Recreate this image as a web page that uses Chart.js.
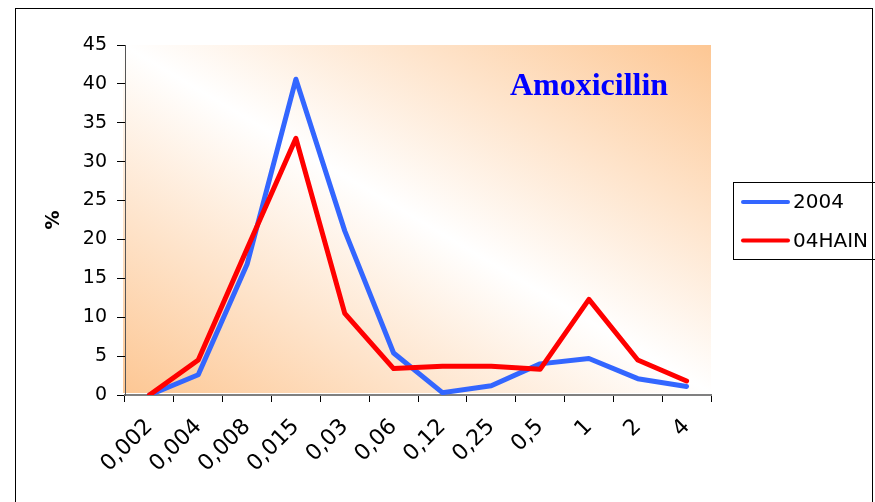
<!DOCTYPE html>
<html>
<head>
<meta charset="utf-8">
<script src="https://cdn.jsdelivr.net/npm/chart.js@4/dist/chart.umd.min.js"></script>
<style>
  html, body { margin: 0; padding: 0; background: #fff; }
  #wrap { width: 875px; height: 502px; }
</style>
</head>
<body>
<div id="wrap"><canvas id="c" width="875" height="502"></canvas></div>
<script>
// MIC classes (mg/L)
const categories = ['0,002', '0,004', '0,008', '0,015', '0,03', '0,06', '0,12', '0,25', '0,5', '1', '2', '4'];
// Percentage of isolates per MIC class
const series2004 = [0, 2.6, 16.8, 40.6, 21.1, 5.4, 0.3, 1.2, 4.0, 4.7, 2.1, 1.1];
const series04HAIN = [0, 4.5, 18.8, 33.0, 10.5, 3.4, 3.7, 3.7, 3.3, 12.3, 4.5, 1.8];
const yTicks = [0, 5, 10, 15, 20, 25, 30, 35, 40, 45];
const chartTitle = 'Amoxicillin';

const FONT = '"DejaVu Sans", "Liberation Sans", Arial, sans-serif';

// Page frame, plot background, in-plot title and legend box
const decor = {
  id: 'decor',
  beforeDraw(chart) {
    const ctx = chart.ctx;
    const a = chart.chartArea;
    ctx.save();
    ctx.fillStyle = '#fff';
    ctx.fillRect(0, 0, chart.width, chart.height);
    // outer frame
    ctx.strokeStyle = '#000';
    ctx.lineWidth = 1;
    ctx.strokeRect(15.5, 8.5, 857, 520);
    // diagonal two-corner gradient, isolines parallel to the top-left/bottom-right diagonal
    const x0 = a.left - 2, y0 = a.top, w = a.right - x0, h = a.bottom - 2 - a.top;
    ctx.translate(x0, y0);
    ctx.scale(w, h);
    const g = ctx.createLinearGradient(0, 1, 1, 0);
    g.addColorStop(0, '#FDC794');
    g.addColorStop(0.5, '#FFFFFF');
    g.addColorStop(1, '#FDC794');
    ctx.fillStyle = g;
    ctx.fillRect(0, 0, 1, 1);
    ctx.restore();
  },
  afterDraw(chart) {
    const ctx = chart.ctx;
    ctx.save();
    // title inside plot
    ctx.font = 'bold 32px "Liberation Serif", "Times New Roman", serif';
    ctx.fillStyle = '#0000FF';
    ctx.textAlign = 'center';
    ctx.textBaseline = 'middle';
    ctx.fillText(chartTitle, 589, 87);
    // legend
    const lx = 733.5, ly = 182.5;
    ctx.strokeStyle = '#000';
    ctx.lineWidth = 1;
    ctx.strokeRect(lx, ly, 160, 77);
    ctx.font = '20px ' + FONT;
    ctx.textAlign = 'left';
    chart.data.datasets.forEach((ds, i) => {
      const y = 202 + i * 38.5;
      ctx.strokeStyle = ds.borderColor;
      ctx.lineWidth = 4;
      ctx.lineCap = 'round';
      ctx.beginPath();
      ctx.moveTo(743, y);
      ctx.lineTo(788, y);
      ctx.stroke();
      ctx.fillStyle = '#000';
      ctx.fillText(ds.label, 793, y + 1);
    });
    ctx.restore();
  }
};

new Chart(document.getElementById('c'), {
  type: 'line',
  data: {
    labels: categories,
    datasets: [
      {
        label: '2004',
        data: series2004,
        borderColor: '#3366FF',
        borderWidth: 5,
        pointRadius: 0,
        tension: 0,
        borderJoinStyle: 'round',
        borderCapStyle: 'round',
        order: 1
      },
      {
        label: '04HAIN',
        data: series04HAIN,
        borderColor: '#FF0000',
        borderWidth: 5,
        pointRadius: 0,
        tension: 0,
        borderJoinStyle: 'round',
        borderCapStyle: 'round',
        order: 0
      }
    ]
  },
  options: {
    responsive: false,
    animation: false,
    devicePixelRatio: 1,
    layout: { padding: { top: 45, right: 164, left: 0, bottom: 0 } },
    plugins: {
      legend: { display: false },
      tooltip: { enabled: false },
      title: { display: false }
    },
    scales: {
      x: {
        type: 'category',
        offset: true,
        grid: { offset: true, drawOnChartArea: false, drawTicks: true, tickLength: 7, color: '#000' },
        border: { color: '#808080', width: 2 },
        ticks: {
          color: '#000',
          font: { family: FONT, size: 22 },
          minRotation: 45,
          maxRotation: 45,
          autoSkip: false,
          padding: 12
        },
        afterFit(scale) { scale.height = 107; }
      },
      y: {
        min: 0,
        max: 45,
        afterBuildTicks(scale) { scale.ticks = yTicks.map(v => ({ value: v })); },
        grid: { drawOnChartArea: false, drawTicks: true, tickLength: 8, color: '#000' },
        border: { color: '#555', width: 1 },
        ticks: {
          color: '#000',
          font: { family: FONT, size: 19 },
          padding: 10
        },
        title: {
          display: true,
          text: '%',
          color: '#000',
          font: { family: FONT, size: 19, weight: 'bold' },
          padding: { top: 43, bottom: 0 }
        },
        afterFit(scale) { scale.width = 125; }
      }
    }
  },
  plugins: [decor]
});
</script>
</body>
</html>
